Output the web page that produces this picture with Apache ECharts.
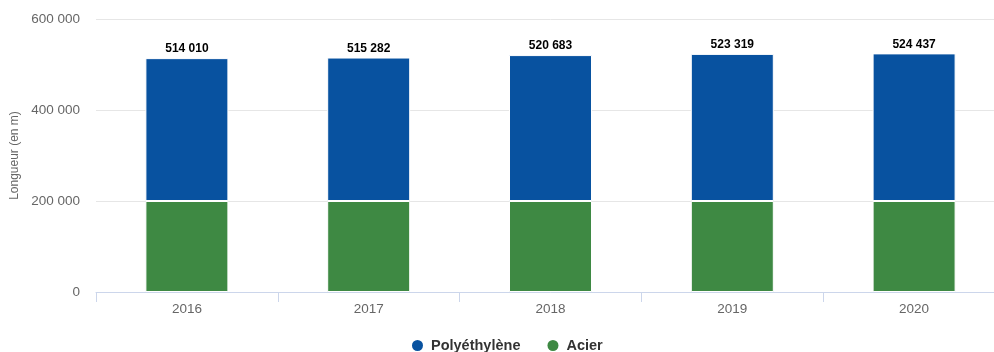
<!DOCTYPE html>
<html>
<head>
<meta charset="utf-8">
<script src="https://cdn.jsdelivr.net/npm/echarts@6/dist/echarts.min.js"></script>
<style>
  html, body { margin: 0; padding: 0; background: #fff; overflow: hidden; }
  #chart { width: 1005px; height: 352px; }
</style>
</head>
<body>
<div id="chart"></div>
<script>
const years = ['2016', '2017', '2018', '2019', '2020']
const acier = [200000, 200000, 200000, 200000, 200000]
const totals = [514010, 515282, 520683, 523319, 524437]
const polyethylene = totals.map((t, i) => t - acier[i])
const yTicks = [0, 200000, 400000, 600000]

// séparateur de milliers avec espace
const fmt = v => String(v).replace(/\B(?=(\d{3})+(?!\d))/g, ' ')

const chart = echarts.init(document.getElementById('chart'))
const font = '"Liberation Sans", Arial, Helvetica, sans-serif'

chart.setOption({
  animation: false,
  textStyle: { fontFamily: font },
  grid: { left: 96, right: 0, top: 19, bottom: 60 },
  legend: {
    data: ['Polyéthylène', 'Acier'],
    top: 333,
    left: 407,
    icon: 'circle',
    itemWidth: 11,
    itemHeight: 11,
    itemGap: 27,
    itemStyle: { borderWidth: 0 },
    textStyle: { fontSize: 14.5, fontWeight: 'bold', color: '#333', fontFamily: font, padding: [0, 0, 0, 3] }
  },
  xAxis: {
    type: 'category',
    data: years,
    axisLine: { lineStyle: { color: '#ccd6eb' } },
    axisTick: { show: true, interval: 0, length: 10, lineStyle: { color: '#ccd6eb' } },
    axisLabel: { color: '#666', fontSize: 13.5, margin: 10 }
  },
  yAxis: {
    type: 'value',
    min: yTicks[0],
    max: yTicks[yTicks.length - 1],
    interval: 200000,
    name: 'Longueur (en m)',
    nameLocation: 'middle',
    nameGap: 72,
    nameTextStyle: { color: '#666', fontSize: 12 },
    splitLine: { lineStyle: { color: '#e6e6e6' } },
    axisLabel: { color: '#666', fontSize: 13.5, margin: 16, formatter: v => fmt(v) }
  },
  series: [
    {
      name: 'Acier',
      type: 'bar',
      stack: 'total',
      barWidth: 83,
      data: acier,
      itemStyle: { color: '#3e8943', borderColor: '#fff', borderWidth: 1 }
    },
    {
      name: 'Polyéthylène',
      type: 'bar',
      stack: 'total',
      barWidth: 83,
      data: polyethylene,
      itemStyle: { color: '#0852a0', borderColor: '#fff', borderWidth: 1 },
      label: {
        show: true,
        position: 'top',
        distance: 3,
        color: '#000',
        fontSize: 12,
        fontWeight: 'bold',
        formatter: p => fmt(totals[p.dataIndex])
      }
    }
  ]
})
</script>
</body>
</html>
